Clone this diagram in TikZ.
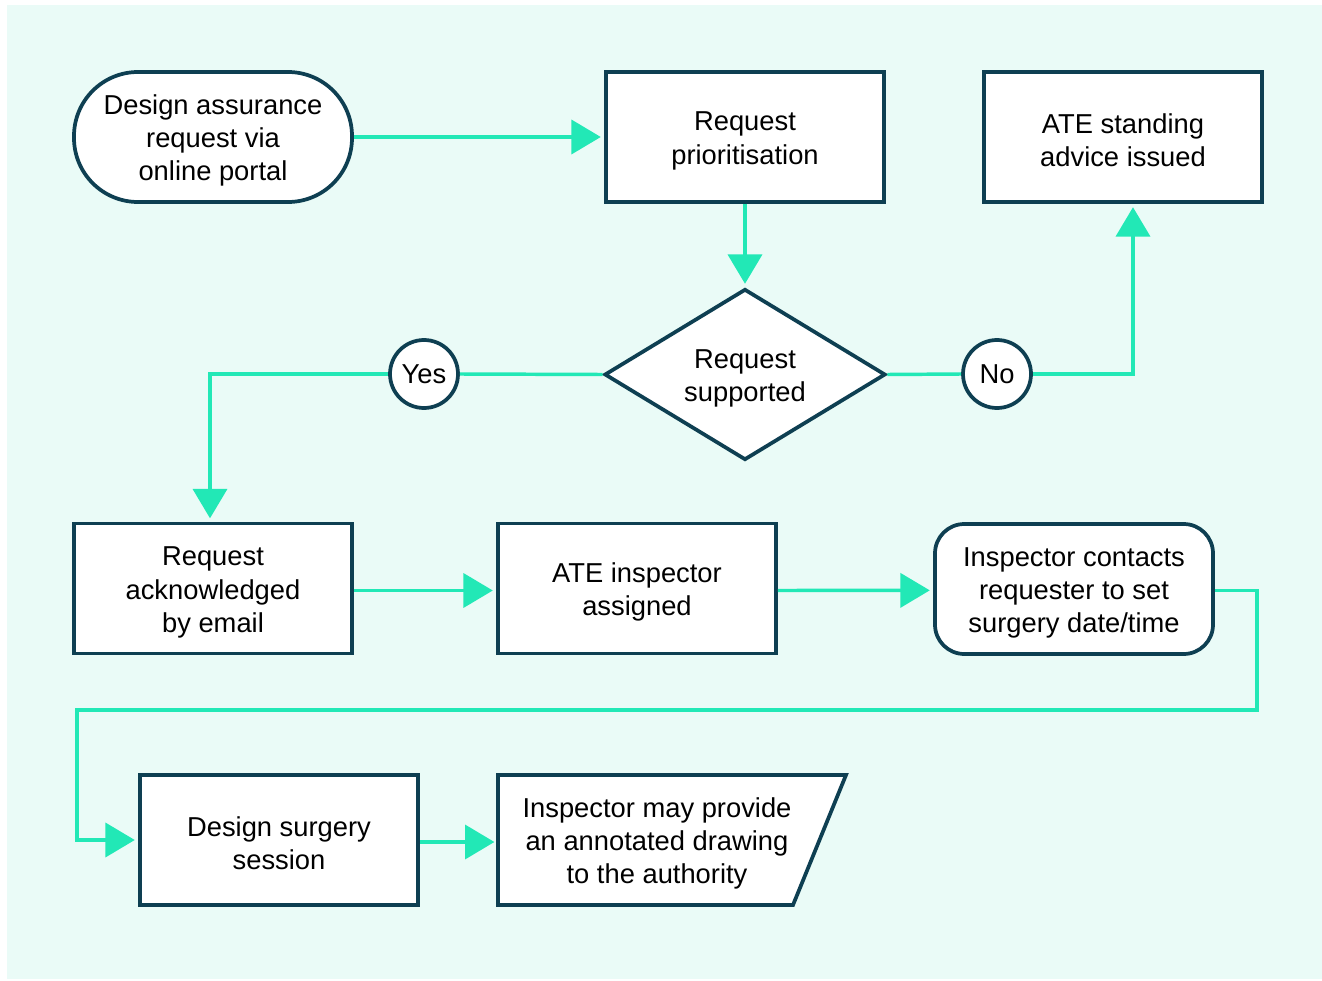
\documentclass[tikz,border=0pt]{standalone}
\usepackage{fontspec}
\setmainfont{Liberation Sans}
\usetikzlibrary{arrows.meta,shapes.geometric,calc}

\definecolor{mint}{HTML}{EAFBF7}
\definecolor{ink}{HTML}{0E3F52}
\definecolor{flowgreen}{HTML}{22E8B6}

% a taller first line sets a block of text a little lower in its shape
\newcommand\tallline{\rule{0pt}{20pt}}

\tikzset{
  label font/.style={font=\fontsize{20.5}{25}\selectfont},
  box/.style={draw=ink, line width=2.8pt, fill=white, minimum width=208.5pt,
    minimum height=97.5pt, align=center, inner sep=2pt, label font},
  roundbox/.style={box, rounded corners=22pt},
  terminal/.style={box, rounded corners=48pt},
  decision/.style={draw=ink, line width=2.8pt, fill=white, diamond, aspect=1.64,
    minimum width=210.75pt, minimum height=128.25pt, inner sep=0pt, align=center,
    label font},
  answer/.style={draw=ink, line width=2.8pt, fill=white, circle,
    minimum size=51pt, inner sep=0pt, label font},
  link/.style={draw=flowgreen, line width=2.6pt},
  arrow/.style={link, -{Triangle[length=22pt, width=25.5pt]}, shorten >=2.5pt},
}

\begin{document}
\begin{tikzpicture}[x=0.75pt, y=-0.75pt]
  \useasboundingbox (0,0) rectangle (1322,981);
  \fill[mint] (7,5) rectangle (1322,979);

  % top row
  \node[terminal] (start) at (213,137) {\tallline Design assurance\\request via\\online portal};
  \node[box] (prio) at (745,137) {\tallline Request\\prioritisation};
  \node[box] (advice) at (1123,137) {\tallline ATE standing\\advice issued};

  % decision and its answers
  \node[decision] (supp) at (745,374.5) {\tallline Request\\supported};
  \node[answer] (yes) at (424,374) {Yes};
  \node[answer] (no) at (997,374) {No};

  % middle row
  \node[box] (ack) at (213,588.5) {\tallline Request\\acknowledged\\by email};
  \node[box] (insp) at (637,588.5) {\tallline ATE inspector\\assigned};
  \node[roundbox] (contact) at (1074,589) {\tallline Inspector contacts\\requester to set\\surgery date/time};

  % bottom row
  \node[box] (surgery) at (279,840) {\tallline Design surgery\\session};
  \draw[draw=ink, line width=2.8pt, fill=white, line join=miter]
    (498,775) -- (846,775) -- (793,905) -- (498,905) -- cycle;
  \node[minimum width=238.5pt, minimum height=97.5pt, inner sep=0pt, align=center,
    label font] (drawing) at (657,840)
    {\tallline Inspector may provide\\an annotated drawing\\to the authority};

  % connectors
  \draw[arrow] (start.east) -- (prio.west);
  \draw[arrow] (prio.south) -- (supp.north);
  \draw[link] (supp.west) -- (yes.east);
  \draw[arrow] (yes.west) -| ([xshift=-2.25pt]ack.north);
  \draw[link] (supp.east) -- (no.west);
  \draw[arrow] (no.east) -| ([xshift=7.5pt]advice.south);
  \draw[arrow] ([yshift=-1.5pt]ack.east) -- ([yshift=-1.5pt]insp.west);
  \draw[arrow] ([yshift=-1.5pt]insp.east) -- ([yshift=-1pt]contact.west);
  \coordinate (turnR) at (1257,710);
  \coordinate (turnL) at (77,710);
  \draw[arrow] ([yshift=-1pt]contact.east) -| (turnR) -- (turnL) |- (surgery.west);
  \draw[arrow] ([yshift=-1.5pt]surgery.east) -- ([yshift=-1.5pt]drawing.west);
\end{tikzpicture}
\end{document}
